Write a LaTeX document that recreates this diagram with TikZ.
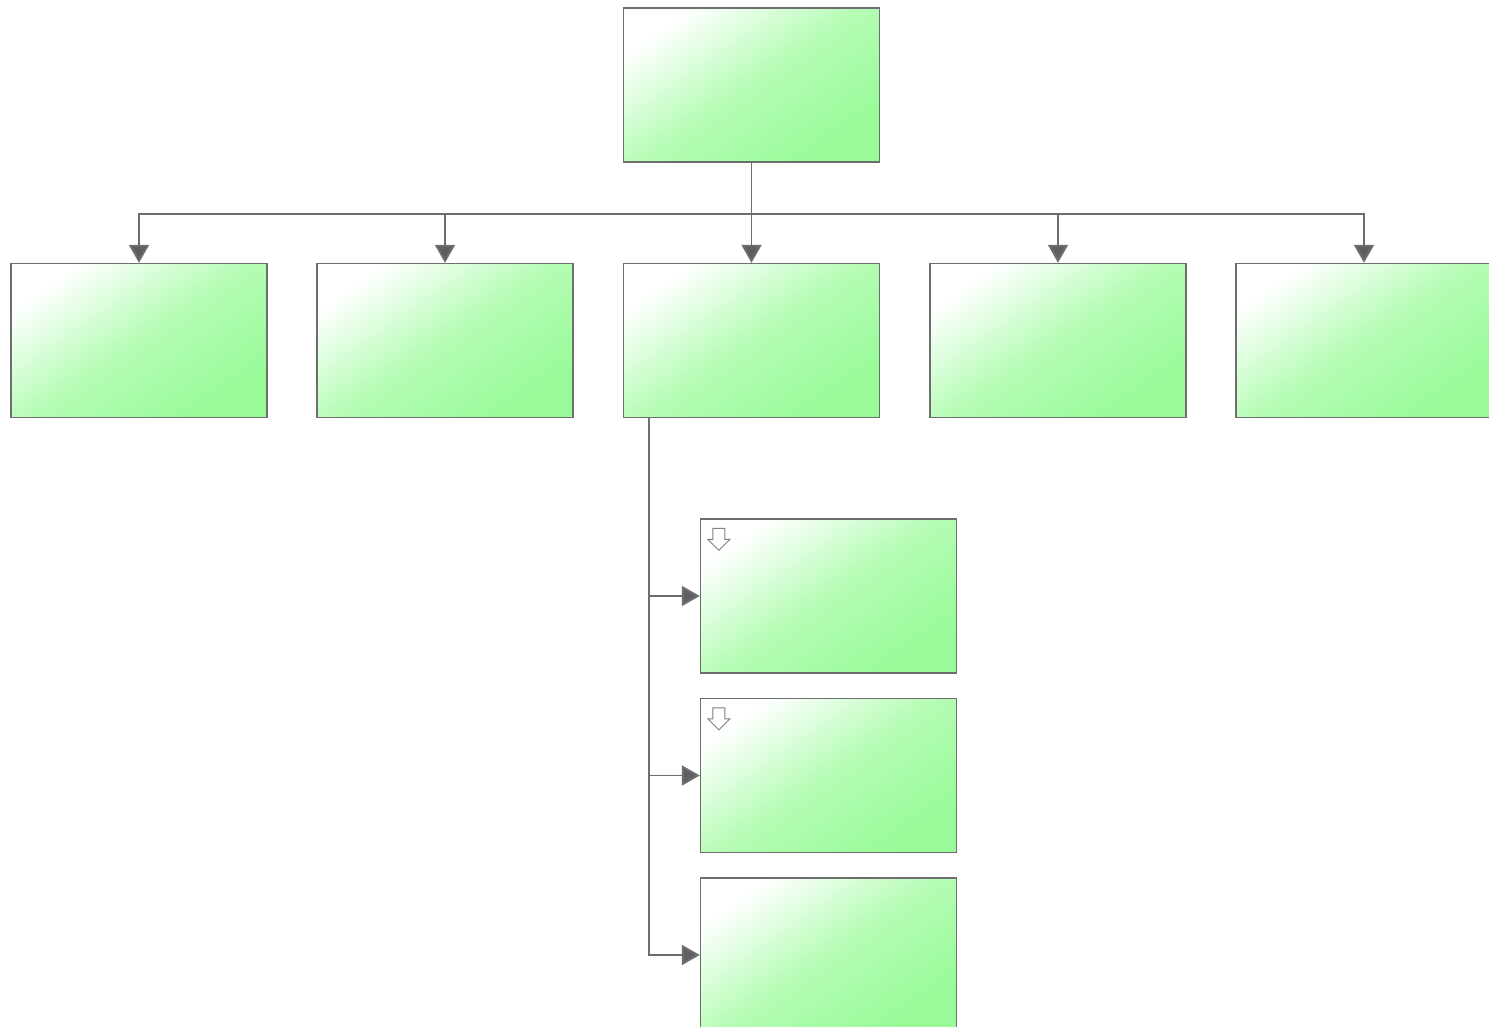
\documentclass[tikz,border=0pt]{standalone}
\usepackage{tikz}
\usetikzlibrary{shapes,arrows,arrows.meta}
\definecolor{boxgreen}{RGB}{152,251,152}
\definecolor{linegray}{RGB}{110,110,110}
\definecolor{tipgray}{RGB}{95,95,95}
\tikzstyle{orgbox} = [draw=linegray, line width=0.8pt, rectangle, minimum width=5.12cm, minimum height=3.08cm, inner sep=0pt, top color=white, bottom color=boxgreen, middle color=boxgreen!72, shading angle=35]
\tikzstyle{link} = [draw=linegray, line width=1.1pt, -{Triangle[width=0.4cm,length=0.36cm,fill=tipgray]}]
\tikzstyle{dropicon} = [draw=gray, line width=0.5pt, fill=white, line join=miter]
% small hollow arrow in the corner of a box
\newcommand{\dropmark}[1]{%
  \draw[dropicon, shift={(#1.north west)}] (13,10) -- (25,10) -- (25,21) -- (30,21) -- (19,32) -- (8,21) -- (13,21) -- cycle;}

\begin{document}
\begin{tikzpicture}[x=0.02cm, y=-0.02cm]
\useasboundingbox (0,0) rectangle (1489,1027);

% top of the chart
\node [orgbox] (head) at (751.5,85) {};

% second row
\node [orgbox] (r1) at (139,340.5) {};
\node [orgbox] (r2) at (445,340.5) {};
\node [orgbox] (r3) at (751.5,340.5) {};
\node [orgbox] (r4) at (1058,340.5) {};
\node [orgbox] (r5) at (1364,340.5) {};

% under the middle box
\node [orgbox] (c1) at (828.5,596) {};
\node [orgbox] (c2) at (828.5,775.5) {};
\node [orgbox] (c3) at (828.5,955) {};
\dropmark{c1}
\dropmark{c2}

\foreach \r in {r1,r2,r3,r4,r5}
  \draw [link] (head.south) -- ++(0,51) -| (\r.north);

\coordinate (spine) at ([xshift=0.52cm]r3.south west);
\foreach \c in {c1,c2,c3}
  \draw [link] (spine) |- (\c.west);
\end{tikzpicture}
\end{document}
